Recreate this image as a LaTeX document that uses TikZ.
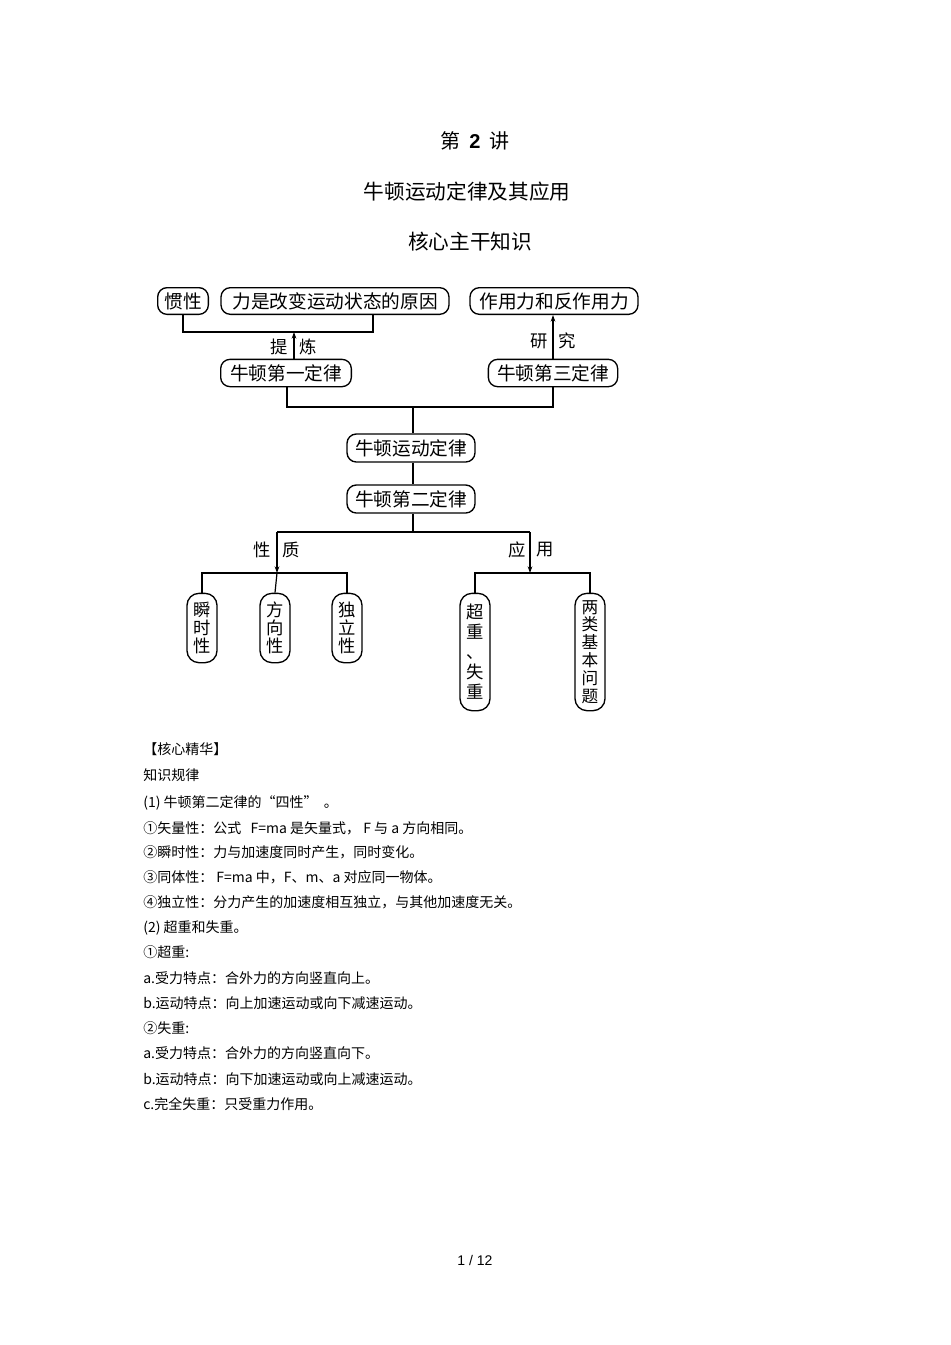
\documentclass[tikz,border=0pt]{standalone}
\usepackage{fontspec}
\setmainfont{Noto Sans CJK SC}
\newfontfamily\latinf{Liberation Sans}
\usetikzlibrary{arrows.meta}
\tikzset{
  pill/.style={draw, line width=1pt, rounded corners=7pt, inner sep=0pt, font=\fontsize{14}{16}\selectfont},
  vbox/.style={pill, rounded corners=9pt, minimum width=22.5pt, align=center},
  conn/.style={line width=0.9pt},
  arr/.style={conn, -{Stealth[length=5pt,width=3.5pt]}},
  lab/.style={font=\fontsize{13}{15}\selectfont, inner sep=0pt},
  body/.style={anchor=west, inner sep=0pt, font=\fontsize{10.5}{12}\selectfont}
}
\begin{document}
\begin{tikzpicture}[x=0.75pt,y=-0.75pt]
\useasboundingbox (0,0) rectangle (950,1345);
\node (t1) at (475,141) {\fontsize{15}{18}\selectfont 第\ \ {\latinf\bfseries 2}\ \ 讲};
\node (t2) at (467,192) {\fontsize{15.5}{18}\selectfont 牛顿运动定律及其应用};
\node (t3) at (470,242) {\fontsize{15.5}{18}\selectfont 核心主干知识};

\node[pill, minimum width=38pt, minimum height=20pt] (gx) at (183,301) {惯性};
\node[pill, minimum width=171pt, minimum height=20pt] (lj) at (335,301) {力是改变运动状态的原因};
\node[pill, minimum width=126pt, minimum height=20pt] (zy) at (554,301) {作用力和反作用力};
\node[pill, minimum width=98pt, minimum height=20.5pt] (d1) at (286,373) {牛顿第一定律};
\node[pill, minimum width=97pt, minimum height=20.5pt] (d3) at (553,373) {牛顿第三定律};
\node[pill, minimum width=96pt, minimum height=21pt] (yd) at (411,448) {牛顿运动定律};
\node[pill, minimum width=96pt, minimum height=21pt] (d2) at (411,499) {牛顿第二定律};

\coordinate (j1) at (294,332);
\draw[conn] (gx.south) |- (j1) -| (lj.south -| 373,0);
\draw[arr] (d1.north -| j1) -- (j1);
\node[lab] (l1) at (279,347) {提};
\node[lab] (l2) at (308,347) {炼};
\draw[arr] (d3.north) -- (zy.south -| d3.north);
\node[lab] (l3) at (539,341) {研};
\node[lab] (l4) at (567,341) {究};

\coordinate (j2) at (413,407);
\draw[conn] (d1.south -| 287,0) |- (j2) -| (d3.south);
\draw[conn] (j2) -- (yd.north -| j2);
\draw[conn] (yd.south -| j2) -- (d2.north -| j2);
\coordinate (j3) at (413,532);
\draw[conn] (d2.south -| j3) -- (j3);
\coordinate (pa) at (277,532);
\coordinate (pb) at (530,532);
\draw[conn] (pa) -- (pb);
\coordinate (qa) at (277,573);
\coordinate (qb) at (530,573);
\draw[arr] (pa) -- (qa);
\draw[arr] (pb) -- (qb);
\node[lab] (l5) at (262,550) {性};
\node[lab] (l6) at (291,550) {质};
\node[lab] (l7) at (517,550) {应};
\node[lab] (l8) at (545,550) {用};

\node[vbox, minimum height=52pt, font=\fontsize{13}{13.5}\selectfont] (s1) at (202,628) {瞬\\时\\性};
\node[vbox, minimum height=52pt, font=\fontsize{13}{13.5}\selectfont] (s2) at (275,628) {方\\向\\性};
\node[vbox, minimum height=52pt, font=\fontsize{13}{13.5}\selectfont] (s3) at (347,628) {独\\立\\性};
\node[vbox, minimum height=88pt, font=\fontsize{13}{15}\selectfont] (s4) at (475,652) {超\\重\\、\\失\\重};
\node[vbox, minimum height=88pt, font=\fontsize{12.5}{13.4}\selectfont] (s5) at (590,652) {两\\类\\基\\本\\问\\题};

\draw[conn] (s1.north) |- (qa) -| (s3.north);
\draw[conn] (qa) -- (s2.north);
\draw[conn] (s4.north) |- (qb) -| (s5.north);

\node[body] (b1) at (143,749) {【核心精华】};
\node[body] (b2) at (143,775) {知识规律};
\node[body] (b3) at (143,803) {(1) 牛顿第二定律的“四性”\ \ 。};
\node[body] (b4) at (143,828) {①矢量性：公式\ \ \ F=ma 是矢量式，\ F 与 a 方向相同。};
\node[body] (b5) at (143,852) {②瞬时性：力与加速度同时产生，同时变化。};
\node[body] (b6) at (143,877) {③同体性：\ F=ma 中，F、m、a 对应同一物体。};
\node[body] (b7) at (143,902) {④独立性：分力产生的加速度相互独立，与其他加速度无关。};
\node[body] (b8) at (143,928) {(2) 超重和失重。};
\node[body] (b9) at (143,952) {①超重:};
\node[body] (b10) at (143,978) {a.受力特点：合外力的方向竖直向上。};
\node[body] (b11) at (143,1003) {b.运动特点：向上加速运动或向下减速运动。};
\node[body] (b12) at (143,1028) {②失重:};
\node[body] (b13) at (143,1053) {a.受力特点：合外力的方向竖直向下。};
\node[body] (b14) at (143,1079) {b.运动特点：向下加速运动或向上减速运动。};
\node[body] (b15) at (143,1104) {c.完全失重：只受重力作用。};
\node (ft) at (475,1260) {\fontsize{10.5}{12}\selectfont\latinf 1 / 12};
\end{tikzpicture}
\end{document}
